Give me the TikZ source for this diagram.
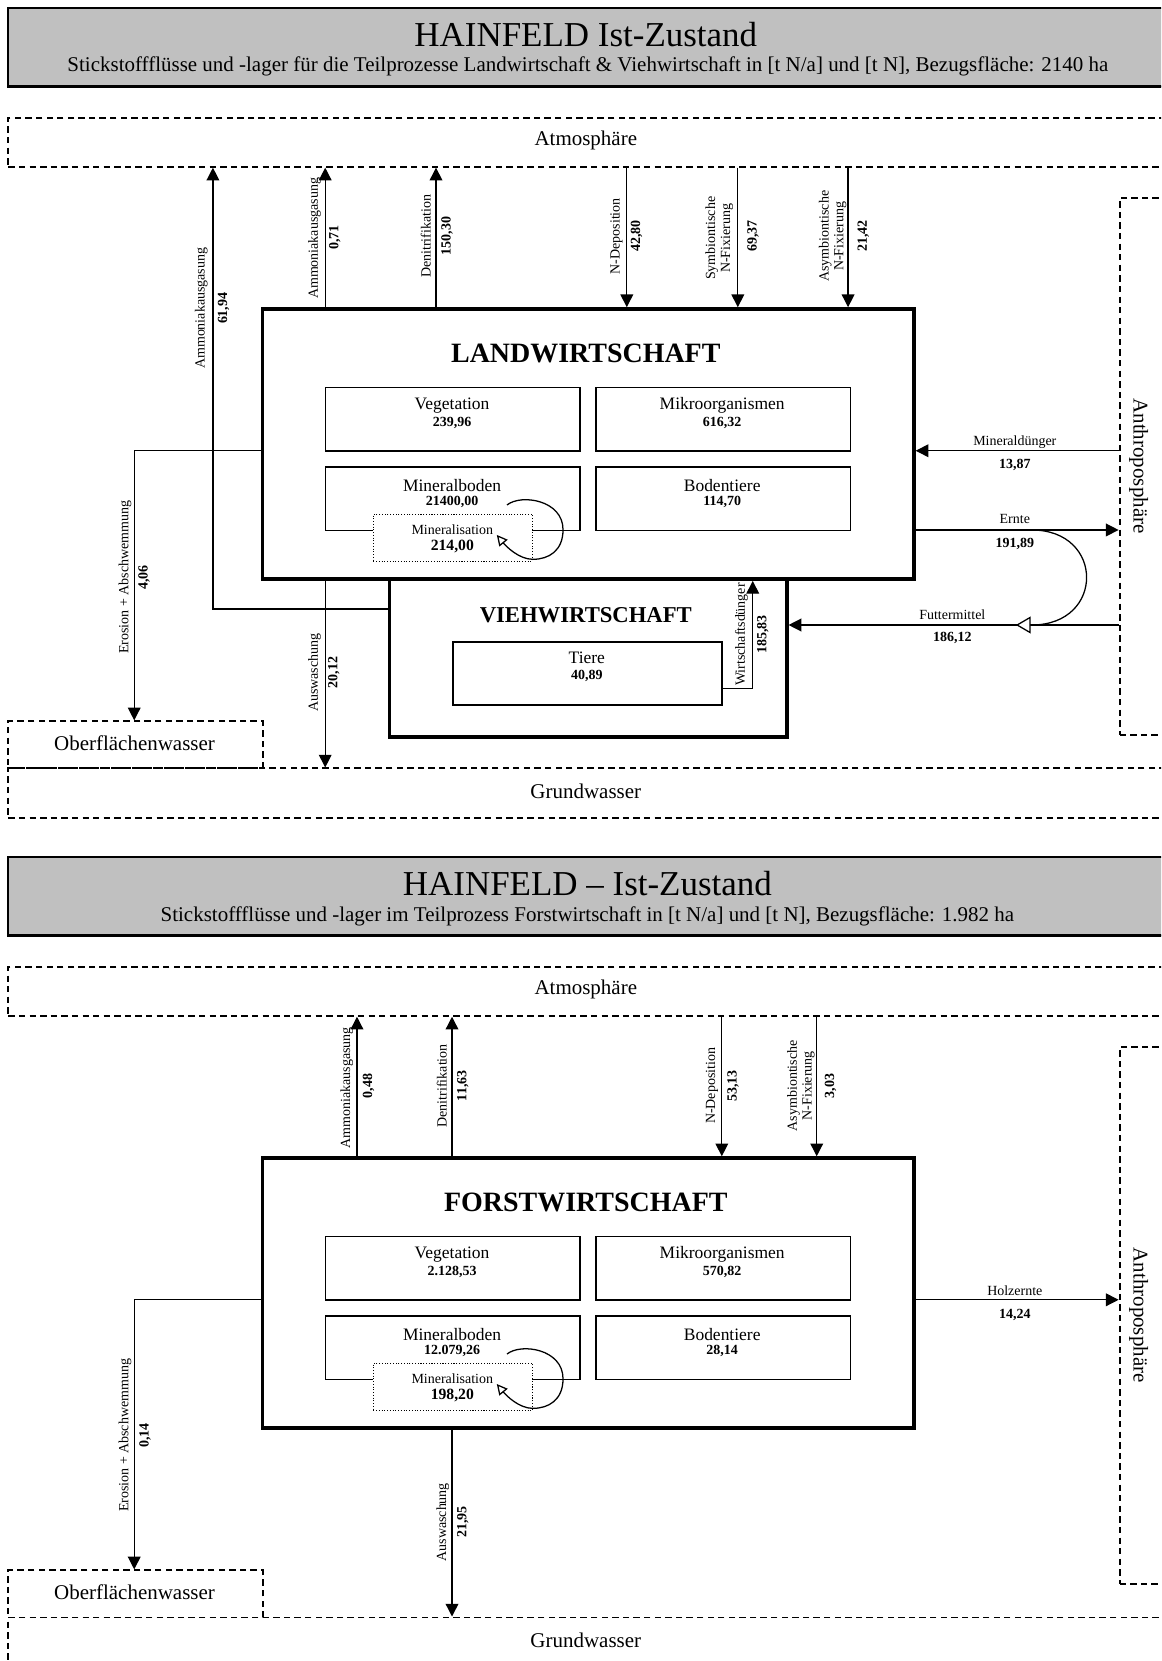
\documentclass[tikz,border=0pt]{standalone}
\usepackage{fontspec}
\setmainfont{Liberation Serif}
\usetikzlibrary{arrows.meta}
\definecolor{titlegray}{HTML}{C0C0C0}
\newcommand\fTitle{\fontsize{16.5}{19}\selectfont}
\newcommand\fSub{\fontsize{9.9}{11.5}\selectfont}
\newcommand\fBig{\fontsize{13.2}{15}\selectfont\bfseries}
\newcommand\fMid{\fontsize{10.7}{12}\selectfont\bfseries}
\newcommand\fBox{\fontsize{8.25}{9.5}\selectfont}
\newcommand\fMis{\fontsize{7.4}{8.5}\selectfont\bfseries}
\newcommand\fSmall{\fontsize{6.6}{7}\selectfont}
\tikzset{
  rbox/.style={draw, line width=0.8pt, fill=white, inner sep=0pt, anchor=north west},
  bigbox/.style={draw, line width=1.7pt, fill=white, inner sep=0pt, anchor=north west},
  dbox/.style={draw, line width=0.9pt, dash pattern=on 3pt off 2pt, inner sep=0pt, anchor=north west},
  dotbox/.style={draw, line width=0.4pt, dash pattern=on 0.5pt off 0.8pt, fill=white, inner sep=0pt, anchor=north west},
  tbox/.style={draw, line width=0.8pt, fill=titlegray, inner sep=0pt, anchor=north west},
  shadowline/.style={line width=1.2pt},
  flow/.style={line width=0.6pt, -{Triangle[length=6pt,width=6pt]}},
  loopflow/.style={line width=0.6pt, -{Triangle[length=5pt,width=5pt,fill=white]}},
  bendflow/.style={line width=0.6pt, -{Triangle[length=7pt,width=8pt,fill=white]}},
  lbl/.style={font=\fSmall, inner sep=0pt, rotate=90, align=center},
  val/.style={font=\fSmall\bfseries, inner sep=0pt, rotate=90},
  hlbl/.style={font=\fSmall, inner sep=0pt},
  hval/.style={font=\fSmall\bfseries, inner sep=0pt},
  txt/.style={inner sep=0pt},
}
\begin{document}
\begin{tikzpicture}[x=0.5pt, y=-0.5pt]
\useasboundingbox (0,0) rectangle (1096,1568);
\clip (0,0) rectangle (1096,1568);

% ================= TOP SECTION =================
\node[tbox, minimum width=551.5pt, minimum height=37pt] (title1) at (6.5,6.5) {};
\draw[shadowline] (title1.south west) -- (title1.south east);
\node[txt, font=\fTitle] (title1t) at (553,33) {HAINFELD Ist-Zustand};
\node[txt, font=\fSub] (title1s) at (555,63) {Stickstoffflüsse und -lager für die Teilprozesse Landwirtschaft \& Viehwirtschaft in [t N/a] und [t N], Bezugsfläche: 2140 ha};

\node[dbox, minimum width=551.5pt, minimum height=23pt] (atm1) at (7,110.5) {};
\node[txt, font=\fSub] (atm1t) at (553,133) {Atmosphäre};
\node[dbox, minimum width=30pt, minimum height=253.5pt] (anth1) at (1056,186) {};
\node[txt, font=\fSub, rotate=-90] (anth1t) at (1075,440) {Anthroposphäre};
\node[dbox, minimum width=551.5pt, minimum height=23.25pt] (gw1) at (7,724.5) {};
\node[txt, font=\fSub] (gw1t) at (553,747) {Grundwasser};
\node[dbox, minimum width=120pt, minimum height=22.25pt] (ow1) at (7,680) {};
\node[txt, font=\fSub] (ow1t) at (127,702) {Oberflächenwasser};

\node[bigbox, minimum width=187.5pt, minimum height=74.5pt] (VW) at (366,545) {};
\node[bigbox, minimum width=307.5pt, minimum height=127.5pt] (LW) at (246,290) {};
\node[txt, font=\fBig] (LWt) at (553,334) {LANDWIRTSCHAFT};
\node[txt, font=\fMid] (VWt) at (553,581) {VIEHWIRTSCHAFT};

\node[rbox, minimum width=120.25pt, minimum height=30pt] (veg1) at (306.5,365) {};
\node[txt, font=\fBox] (veg1n) at (426.75,383) {Vegetation};
\node[txt, font=\fSmall\bfseries] (veg1v) at (426.75,399) {239,96};
\node[rbox, minimum width=120.25pt, minimum height=30pt] (mik1) at (561.5,365) {};
\node[txt, font=\fBox] (mik1n) at (681.75,383) {Mikroorganismen};
\node[txt, font=\fSmall\bfseries] (mik1v) at (681.75,399) {616,32};
\node[rbox, minimum width=120.25pt, minimum height=30pt] (min1) at (306.5,440) {};
\node[txt, font=\fBox] (min1n) at (426.75,458) {Mineralboden};
\node[txt, font=\fSmall\bfseries] (min1v) at (426.75,474) {21400,00};
\node[rbox, minimum width=120.25pt, minimum height=30pt] (bod1) at (561.5,440) {};
\node[txt, font=\fBox] (bod1n) at (681.75,458) {Bodentiere};
\node[txt, font=\fSmall\bfseries] (bod1v) at (681.75,474) {114,70};
\node[dotbox, minimum width=75pt, minimum height=22.25pt] (mis1) at (352,485) {};
\node[txt, font=\fSmall] (mis1n) at (427,500) {Mineralisation};
\node[txt, font=\fMis] (mis1v) at (427,516) {214,00};
\draw[loopflow] (478.6,476.7) .. controls (492,466) and (531.5,472) .. (531.5,500) .. controls (531.5,520) and (518,528) .. (503,528) .. controls (490,528) and (478,516) .. (469,505);

\node[rbox, minimum width=127pt, minimum height=30pt] (tiere) at (427,605) {};
\node[txt, font=\fBox] (tieren) at (554,621) {Tiere};
\node[txt, font=\fSmall\bfseries] (tierev) at (554,638) {40,89};

% connectors top
\coordinate (a1) at (201,575);
\draw[flow] (VW.west |- a1) -- (a1) -- (atm1.south -| a1);
\node[lbl] (la1) at (190,291) {Ammoniakausgasung};
\node[val] (va1) at (211,291) {61,94};

\coordinate (a2) at (307,0);
\draw[flow] (LW.north -| a2) -- (atm1.south -| a2);
\node[lbl] (la2) at (297,225) {Ammoniakausgasung};
\node[val] (va2) at (316,224) {0,71};

\coordinate (dn) at (411.6,0);
\draw[flow] (LW.north -| dn) -- (atm1.south -| dn);
\node[lbl] (ldn) at (402,223) {Denitrifikation};
\node[val] (vdn) at (422,223) {150,30};

\coordinate (nd) at (591.7,0);
\draw[flow] (atm1.south -| nd) -- (LW.north -| nd);
\node[lbl] (lnd) at (582,223) {N-Deposition};
\node[val] (vnd) at (601,223) {42,80};

\coordinate (sy) at (696.5,0);
\draw[flow] (atm1.south -| sy) -- (LW.north -| sy);
\node[lbl] (lsy) at (679,225) {Symbiontische\\N-Fixierung};
\node[val] (vsy) at (711,223) {69,37};

\coordinate (as) at (800.6,0);
\draw[flow] (atm1.south -| as) -- (LW.north -| as);
\node[lbl] (las) at (786,223) {Asymbiontische\\N-Fixierung};
\node[val] (vas) at (815,223) {21,42};

\coordinate (er) at (126.7,425.5);
\draw[flow] (LW.west |- er) -- (er) -- (ow1.north -| er);
\node[lbl] (ler) at (118,545) {Erosion + Abschwemmung};
\node[val] (ver) at (136,545) {4,06};

\coordinate (aw) at (307,0);
\draw[flow] (LW.south -| aw) -- (gw1.north -| aw);
\node[lbl] (law) at (297,635) {Auswaschung};
\node[val] (vaw) at (315,635) {20,12};

\coordinate (wd) at (710.6,649.6);
\draw[flow] (tiere.east |- wd) -- (wd) -- (LW.south -| wd);
\node[lbl] (lwd) at (700,599) {Wirtschaftsdünger};
\node[val] (vwd) at (720,599) {185,83};

\coordinate (md) at (0,425.5);
\draw[flow] (anth1.west |- md) -- (LW.east |- md);
\node[hlbl] (lmd) at (958,417) {Mineraldünger};
\node[hval] (vmd) at (958,439) {13,87};

\coordinate (ern) at (0,500.3);
\draw[flow] (LW.east |- ern) -- (anth1.west |- ern);
\node[hlbl] (lern) at (958,490) {Ernte};
\node[hval] (vern) at (958,513.6) {191,89};

\coordinate (fu) at (0,590);
\draw[flow] (anth1.west |- fu) -- (VW.east |- fu);
\node[hlbl] (lfu) at (899,580.5) {Futtermittel};
\node[hval] (vfu) at (899,602) {186,12};

\coordinate (bs) at (974,500.3);
\coordinate (be) at (974,590);
\coordinate (bt) at (959,590);
\draw[bendflow] (bs) .. controls (1043,500.3) and (1043,590) .. (be) -- (bt);

% ================= BOTTOM SECTION =================
\node[tbox, minimum width=551.5pt, minimum height=37pt] (title2) at (6.5,808) {};
\draw[shadowline] (title2.south west) -- (title2.south east);
\node[txt, font=\fTitle] (title2t) at (554.5,834.5) {HAINFELD – Ist-Zustand};
\node[txt, font=\fSub] (title2s) at (554.5,865) {Stickstoffflüsse und -lager im Teilprozess Forstwirtschaft in [t N/a] und [t N], Bezugsfläche: 1.982 ha};

\node[dbox, minimum width=551.5pt, minimum height=23pt] (atm2) at (7,912) {};
\node[txt, font=\fSub] (atm2t) at (553,934.5) {Atmosphäre};
\node[dbox, minimum width=30pt, minimum height=253.5pt] (anth2) at (1056,987.5) {};
\node[txt, font=\fSub, rotate=-90] (anth2t) at (1075,1241.5) {Anthroposphäre};
\node[dbox, minimum width=551.5pt, minimum height=40pt] (gw2) at (7,1526) {};
\node[txt, font=\fSub] (gw2t) at (553,1548.5) {Grundwasser};
\node[dbox, minimum width=120pt, minimum height=22.25pt] (ow2) at (7,1481.5) {};
\node[txt, font=\fSub] (ow2t) at (127,1503.5) {Oberflächenwasser};

\node[bigbox, minimum width=307.5pt, minimum height=127.5pt] (FW) at (246,1091.5) {};
\node[txt, font=\fBig] (FWt) at (553,1135.5) {FORSTWIRTSCHAFT};

\node[rbox, minimum width=120.25pt, minimum height=30pt] (veg2) at (306.5,1166.5) {};
\node[txt, font=\fBox] (veg2n) at (426.75,1184.5) {Vegetation};
\node[txt, font=\fSmall\bfseries] (veg2v) at (426.75,1200.5) {2.128,53};
\node[rbox, minimum width=120.25pt, minimum height=30pt] (mik2) at (561.5,1166.5) {};
\node[txt, font=\fBox] (mik2n) at (681.75,1184.5) {Mikroorganismen};
\node[txt, font=\fSmall\bfseries] (mik2v) at (681.75,1200.5) {570,82};
\node[rbox, minimum width=120.25pt, minimum height=30pt] (min2) at (306.5,1241.5) {};
\node[txt, font=\fBox] (min2n) at (426.75,1259.5) {Mineralboden};
\node[txt, font=\fSmall\bfseries] (min2v) at (426.75,1275.5) {12.079,26};
\node[rbox, minimum width=120.25pt, minimum height=30pt] (bod2) at (561.5,1241.5) {};
\node[txt, font=\fBox] (bod2n) at (681.75,1259.5) {Bodentiere};
\node[txt, font=\fSmall\bfseries] (bod2v) at (681.75,1275.5) {28,14};
\node[dotbox, minimum width=75pt, minimum height=22.25pt] (mis2) at (352,1286.5) {};
\node[txt, font=\fSmall] (mis2n) at (427,1301.5) {Mineralisation};
\node[txt, font=\fMis] (mis2v) at (427,1317.5) {198,20};
\draw[loopflow] (478.6,1278.2) .. controls (492,1267.5) and (531.5,1273.5) .. (531.5,1301.5) .. controls (531.5,1321.5) and (518,1329.5) .. (503,1329.5) .. controls (490,1329.5) and (478,1317.5) .. (469,1306.5);

% connectors bottom
\coordinate (c1) at (337,0);
\draw[flow] (FW.north -| c1) -- (atm2.south -| c1);
\node[lbl] (lc1) at (327.3,1027) {Ammoniakausgasung};
\node[val] (vc1) at (348,1025) {0,48};

\coordinate (c2) at (426.7,0);
\draw[flow] (FW.north -| c2) -- (atm2.south -| c2);
\node[lbl] (lc2) at (417,1025) {Denitrifikation};
\node[val] (vc2) at (437,1025) {11,63};

\coordinate (c3) at (681.4,0);
\draw[flow] (atm2.south -| c3) -- (FW.north -| c3);
\node[lbl] (lc3) at (672,1025) {N-Deposition};
\node[val] (vc3) at (692,1025) {53,13};

\coordinate (c4) at (771,0);
\draw[flow] (atm2.south -| c4) -- (FW.north -| c4);
\node[lbl] (lc4) at (756,1025) {Asymbiontische\\N-Fixierung};
\node[val] (vc4) at (784,1025) {3,03};

\coordinate (c5) at (126.7,1227);
\draw[flow] (FW.west |- c5) -- (c5) -- (ow2.north -| c5);
\node[lbl] (lc5) at (118,1355) {Erosion + Abschwemmung};
\node[val] (vc5) at (137,1355) {0,14};

\coordinate (c6) at (426.7,0);
\draw[flow] (FW.south -| c6) -- (gw2.north -| c6);
\node[lbl] (lc6) at (418,1437) {Auswaschung};
\node[val] (vc6) at (437,1437) {21,95};

\coordinate (c7) at (0,1227);
\draw[flow] (FW.east |- c7) -- (anth2.west |- c7);
\node[hlbl] (lc7) at (958,1218) {Holzernte};
\node[hval] (vc7) at (958,1241.5) {14,24};
\end{tikzpicture}
\end{document}
